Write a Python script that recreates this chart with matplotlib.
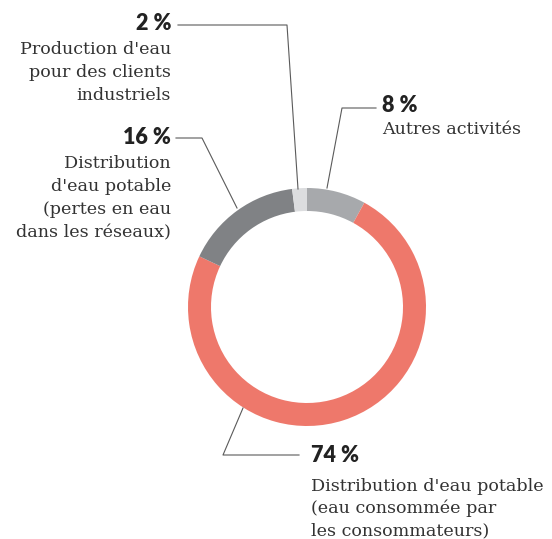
import matplotlib
matplotlib.use("Agg")
import matplotlib.pyplot as plt

# Water use breakdown (%), listed clockwise from 12 o'clock
shares = [8, 74, 16, 2]
titles = ["8 %", "74 %", "16 %", "2 %"]
descriptions = [
    ["Autres activités"],
    ["Distribution d'eau potable", "(eau consommée par", "les consommateurs)"],
    ["Distribution", "d'eau potable", "(pertes en eau", "dans les réseaux)"],
    ["Production d'eau", "pour des clients", "industriels"],
]
colors = ["#a7a9ac", "#ee786b", "#808285", "#dcdddf"]

W, H = 552, 539
fig = plt.figure(figsize=(W / 100, H / 100), dpi=100)
ax = fig.add_axes([0, 0, 1, 1])


def Y(y):
    """Convert a top-down pixel row into axis units."""
    return H - y


cx, cy, r_out, ring = 307, 307, 119, 23
ax.pie(shares, colors=colors, startangle=90, counterclock=False,
       center=(cx, Y(cy)), radius=r_out,
       wedgeprops=dict(width=ring, linewidth=0), frame=True)
ax.set_xlim(0, W)
ax.set_ylim(0, H)
ax.set_aspect("equal")
ax.axis("off")

line_kw = dict(color="#5a5a5a", lw=0.8)
# leader lines (horizontal run, then slanted to the ring)
ax.plot([376, 342, 327], [Y(108), Y(108), Y(188)], **line_kw)     # 8 %
ax.plot([299, 223, 243], [Y(455), Y(455), Y(408)], **line_kw)     # 74 %
ax.plot([176, 202, 237], [Y(138), Y(138), Y(208)], **line_kw)     # 16 %
ax.plot([178, 287, 298], [Y(25), Y(25), Y(189)], **line_kw)       # 2 %

pct_kw = dict(family=["Lato", "DejaVu Sans"], fontweight="heavy", fontsize=15.5,
              color="#222222", va="center")
txt_kw = dict(family=["DejaVu Serif"], fontsize=12.6, color="#333333",
              va="baseline")


def label(x, ha, y_title, title, first_base, lines, step=23):
    ax.text(x, Y(y_title), title, ha=ha, **pct_kw)
    for i, s in enumerate(lines):
        ax.text(x, Y(first_base + i * step), s, ha=ha, **txt_kw)


label(382, "left", 105, titles[0], 134, descriptions[0])
label(311, "left", 456, titles[1], 491, descriptions[1], step=22)
label(171, "right", 137, titles[2], 168, descriptions[2])
label(171, "right", 24, titles[3], 54, descriptions[3])

fig.savefig("out.png", dpi=100, facecolor="white")
